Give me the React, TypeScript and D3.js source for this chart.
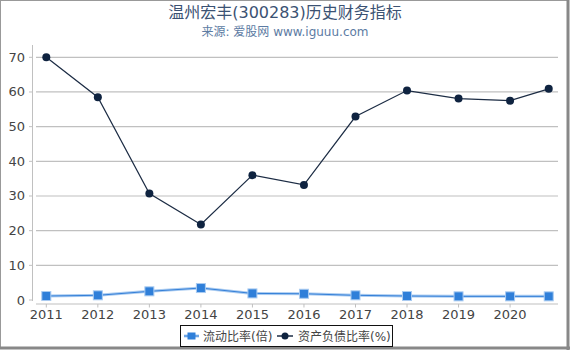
import React from "react";
import { scaleLinear, line } from "d3";

const years = [2011, 2012, 2013, 2014, 2015, 2016, 2017, 2018, 2019, 2020, 2020.75];
const tickYears = [2011, 2012, 2013, 2014, 2015, 2016, 2017, 2018, 2019, 2020];
const yTicks = [0, 10, 20, 30, 40, 50, 60, 70];
const currentRatio = [1.15, 1.35, 2.5, 3.45, 1.9, 1.8, 1.35, 1.15, 1.05, 1.05, 1.05];
const debtRatio = [70.0, 58.5, 30.7, 21.8, 36.0, 33.2, 52.9, 60.4, 58.1, 57.5, 60.9];
const seriesNames = ["流动比率(倍)", "资产负债比率(%)"];

const W = 570;
const H = 350;
const font = "'DejaVu Sans', 'Noto Sans CJK SC', sans-serif";

const x = scaleLinear().domain([2010.8, 2020.93]).range([36, 558]);
const y = scaleLinear().domain([0, 70]).range([300, 57.3]);

export default function App() {
  const blueLine = line<number>()
    .x((_, i) => x(years[i]))
    .y((d) => y(d));
  const pts = (vals: number[]) => vals.map((v, i) => [x(years[i]), y(v)] as [number, number]);

  return (
    <svg
      width={W}
      height={H}
      style={{ position: "absolute", left: 0, top: 0, background: "#fff" }}
    >
      {/* frame */}
      <rect x={0.5} y={0.5} width={W - 3} height={H - 3} fill="none" stroke="#999" />
      <line x1={W - 2} y1={0} x2={W - 2} y2={H} stroke="#888" strokeWidth={3} />
      <line x1={0} y1={H - 2} x2={W} y2={H - 2} stroke="#888" strokeWidth={3} />

      {/* title */}
      <text x={285} y={18} textAnchor="middle" fontFamily={font} fontSize={16} fill="#3b5273">
        温州宏丰(300283)历史财务指标
      </text>
      <text x={285} y={36} textAnchor="middle" fontFamily={font} fontSize={12} fill="#5c7ba3">
        来源: 爱股网 www.iguuu.com
      </text>

      {/* grid */}
      {yTicks.filter((t) => t > 0).map((t) => (
        <line key={t} x1={36} x2={558} y1={y(t)} y2={y(t)} stroke="#c0c0c0" strokeWidth={1.2} />
      ))}

      {/* y axis */}
      <line x1={32.5} x2={32.5} y1={45} y2={301} stroke="#c0c0c0" />
      {yTicks.map((t) => (
        <g key={t}>
          <line x1={29} x2={32.5} y1={y(t)} y2={y(t)} stroke="#c0c0c0" />
          <text x={25} y={y(t) + 4.5} textAnchor="end" fontFamily={font} fontSize={13} fill="#444">
            {t}
          </text>
        </g>
      ))}

      {/* x axis */}
      <line x1={36} x2={558} y1={304} y2={304} stroke="#c0c0c0" strokeWidth={1.2} />
      {tickYears.map((t) => (
        <g key={t}>
          <line x1={x(t)} x2={x(t)} y1={304} y2={307.5} stroke="#c0c0c0" />
          <text x={x(t)} y={319} textAnchor="middle" fontFamily={font} fontSize={13} fill="#444">
            {t}
          </text>
        </g>
      ))}

      {/* current ratio */}
      <path d={blueLine(currentRatio) || ""} fill="none" stroke="#a9cbf1" strokeWidth={3} />
      <path d={blueLine(currentRatio) || ""} fill="none" stroke="#3580d8" strokeWidth={1} />
      {pts(currentRatio).map(([px, py], i) => (
        <rect key={i} x={px - 4.5} y={py - 4.5} width={9} height={9} fill="#2f7fd9" stroke="#a9cbf1" strokeWidth={1} />
      ))}

      {/* debt ratio */}
      <path d={blueLine(debtRatio) || ""} fill="none" stroke="#1c2c44" strokeWidth={1.2} />
      {pts(debtRatio).map(([px, py], i) => (
        <circle key={i} cx={px} cy={py} r={4} fill="#0f2340" />
      ))}

      {/* legend */}
      <rect x={180.5} y={325.5} width={212} height={21} fill="#fff" stroke="#111" />
      <line x1={184} x2={199} y1={336} y2={336} stroke="#a9cbf1" strokeWidth={3} />
      <line x1={184} x2={199} y1={336} y2={336} stroke="#3580d8" strokeWidth={1} />
      <rect x={187.5} y={332.5} width={8} height={7} fill="#2f7fd9" />
      <text x={203} y={341} fontFamily={font} fontSize={12} fill="#444">
        {seriesNames[0]}
      </text>
      <line x1={277} x2={293} y1={336} y2={336} stroke="#1c2c44" strokeWidth={1.5} />
      <circle cx={285} cy={336} r={3.5} fill="#0f2340" />
      <text x={298} y={341} fontFamily={font} fontSize={12} fill="#444">
        {seriesNames[1]}
      </text>
    </svg>
  );
}
